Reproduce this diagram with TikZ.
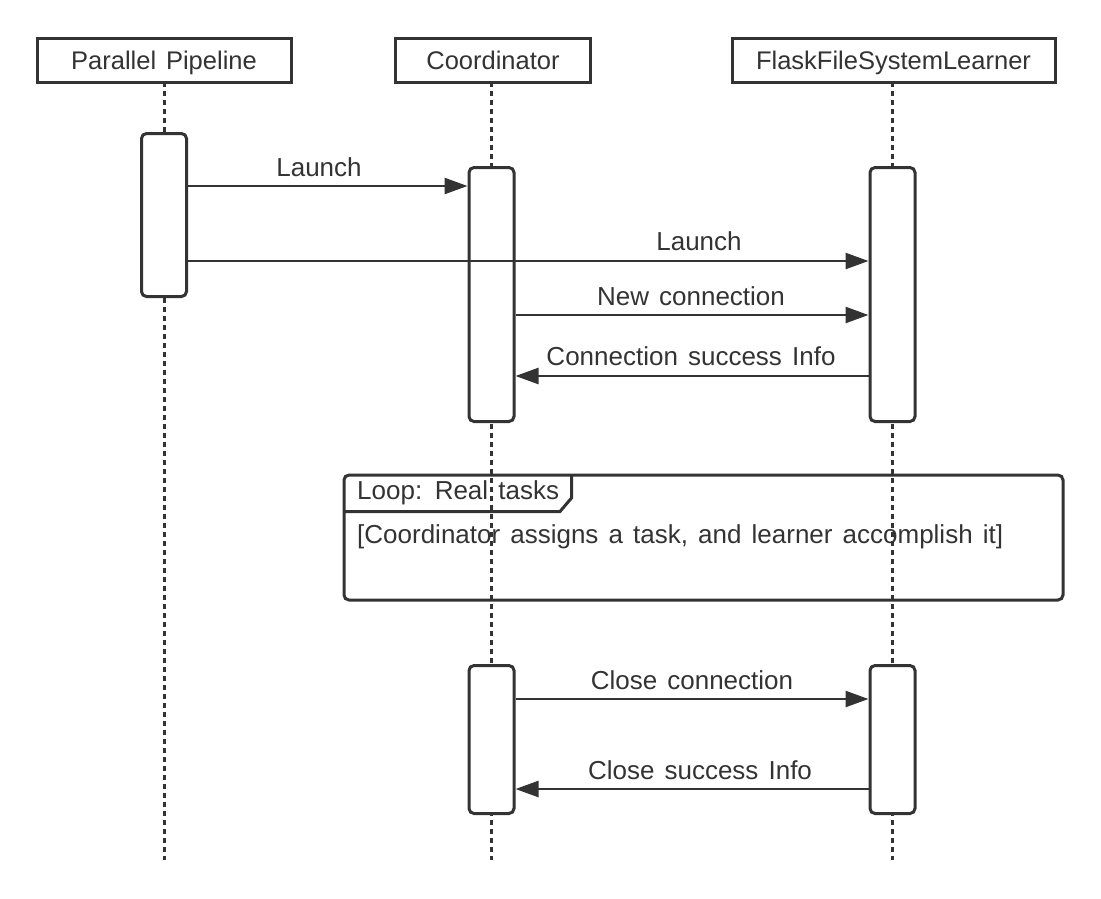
\documentclass[tikz,border=0pt]{standalone}
\usepackage{fontspec}
\setmainfont{Liberation Sans}[WordSpace=1.4]
\usetikzlibrary{arrows.meta}
\definecolor{ink}{HTML}{333333}
\begin{document}
\begin{tikzpicture}[x=1pt,y=-1pt,
  header/.style={draw=ink, line width=3pt, fill=white, minimum height=44pt, inner sep=0pt, text=ink, text height=19pt, text depth=0pt, font=\fontsize{25.5}{30}\selectfont},
  act/.style={draw=ink, line width=3pt, fill=white, rounded corners=5pt, minimum width=45pt, inner sep=0pt},
  lifeline/.style={draw=ink, line width=3pt, dash pattern=on 5pt off 4pt},
  msg/.style={draw=ink, line width=2.5pt, -{Triangle[length=23pt,width=16pt]}},
  lbl/.style={text=ink, inner sep=0pt, font=\fontsize{26}{30}\selectfont},
  frame/.style={draw=ink, line width=3pt, rounded corners=5pt}
]
\useasboundingbox (0,0) rectangle (1101,898);
% headers
\node[header, minimum width=254pt] (hpp) at (164,60) {Parallel Pipeline};
\node[header, minimum width=195pt] (hco) at (493,60) {Coordinator};
\node[header, minimum width=323pt] (hfl) at (893.5,60) {FlaskFileSystemLearner};
% lifeline ends
\coordinate (epp) at (164,860);
\coordinate (eco) at (491,860);
\coordinate (efl) at (892,860);
\draw[lifeline] (164,82) -- (epp);
\draw[lifeline] (491,82) -- (eco);
\draw[lifeline] (892,82) -- (efl);
% loop frame
\draw[frame] (344,475) rectangle (1063,600);
\draw[draw=ink, line width=3pt] (344,511.5) -- (560,511.5) -- (571.5,498) -- (571.5,475);
\node[lbl, anchor=west] (looplbl) at (357,493) {Loop: Real tasks};
\node[lbl, anchor=west] (guard) at (357,537) {[Coordinator assigns a task, and learner accomplish it]};
% activations
\node[act, minimum height=163pt] (app) at (164,215) {};
\node[act, minimum height=254pt] (aco) at (491.5,294.5) {};
\node[act, minimum height=254pt] (afl) at (892.5,294.5) {};
\node[act, minimum height=148pt] (aco2) at (491.5,739.5) {};
\node[act, minimum height=148pt] (afl2) at (892.5,739.5) {};
% messages
\draw[msg] (app.east |- 0,186) -- (aco.west |- 0,186);
\node[lbl] (l1) at (319,167) {Launch};
\draw[msg] (app.east |- 0,261) -- (afl.west |- 0,261);
\node[lbl] (l2) at (699,241) {Launch};
\draw[msg] (aco.east |- 0,315) -- (afl.west |- 0,315);
\node[lbl] (l3) at (691,296) {New connection};
\draw[msg] (afl.west |- 0,376) -- (aco.east |- 0,376);
\node[lbl] (l4) at (691,356) {Connection success Info};
\draw[msg] (aco2.east |- 0,699) -- (afl2.west |- 0,699);
\node[lbl] (l5) at (692,680) {Close connection};
\draw[msg] (afl2.west |- 0,789) -- (aco2.east |- 0,789);
\node[lbl] (l6) at (700,770) {Close success Info};
\end{tikzpicture}
\end{document}
